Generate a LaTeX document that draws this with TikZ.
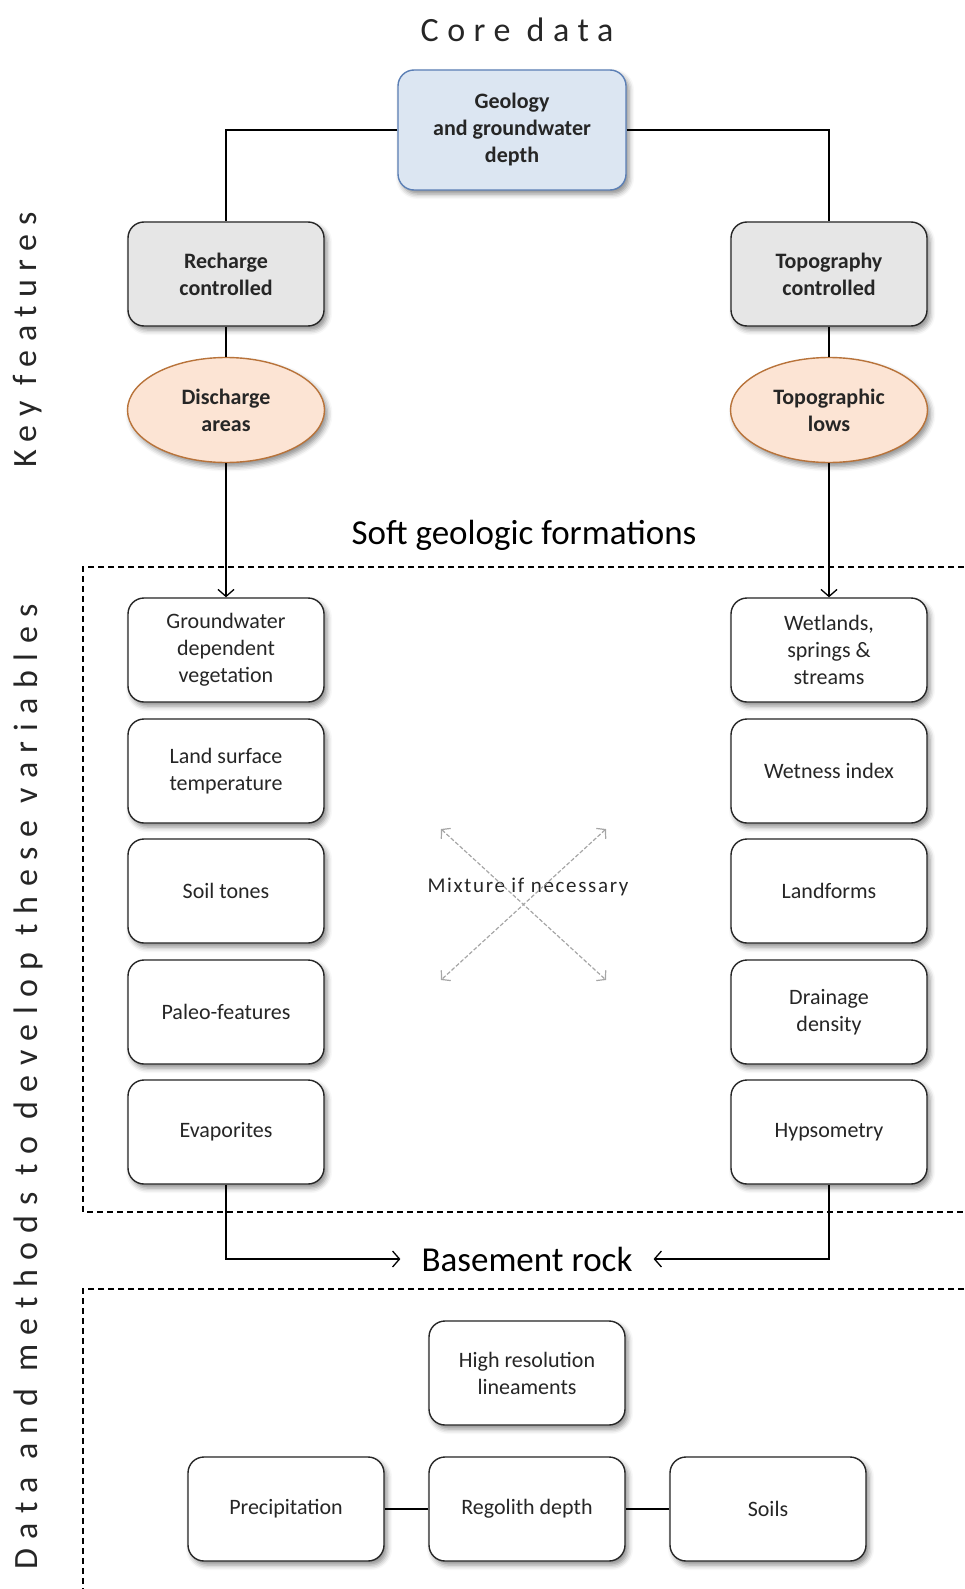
\documentclass[tikz,border=0pt]{standalone}
\usepackage{fontspec}
\setmainfont{Carlito}
\newfontfamily\widefont[LetterSpace=25]{Carlito}
\newfontfamily\widerfont[LetterSpace=28]{Carlito}
\newfontfamily\mixfont[LetterSpace=8]{Carlito}
\usetikzlibrary{shapes.geometric,shadows.blur,arrows.meta}

\definecolor{geofill}{HTML}{DCE6F2}
\definecolor{geodraw}{HTML}{5B7FB5}
\definecolor{keyfill}{HTML}{E6E6E6}
\definecolor{areafill}{HTML}{FCE4D4}
\definecolor{areadraw}{HTML}{B8733A}

\begin{document}
\begin{tikzpicture}[x=1pt, y=-1pt,
    shade/.style={blur shadow={shadow xshift=3pt, shadow yshift=-4pt,
        shadow blur radius=5pt, shadow opacity=45}},
    box/.style={rectangle, rounded corners=16pt, draw=black!85, line width=1.4pt,
        fill=white, minimum width=196pt, minimum height=104pt, align=center,
        text=black!85, font=\fontsize{22}{27}\selectfont, shade},
    keybox/.style={box, fill=keyfill, font=\bfseries\fontsize{22}{27}\selectfont},
    area/.style={ellipse, draw=areadraw, line width=1.4pt, fill=areafill,
        minimum width=197pt, minimum height=105pt, align=center, inner sep=0pt,
        text=black!85, font=\bfseries\fontsize{22}{27}\selectfont, shade},
    link/.style={line width=1.3pt},
    arr/.style={link, -{Straight Barb[length=7pt, width=16pt]}},
    mixarr/.style={gray!70, line width=1.2pt, dash pattern=on 4pt off 2pt,
        {Straight Barb[length=6pt, width=14pt]}-{Straight Barb[length=6pt, width=14pt]}},
    frame/.style={line width=1.2pt, dash pattern=on 6pt off 4pt},
    heading/.style={font=\widefont\fontsize{34}{40}\selectfont, text=black!85},
    section/.style={font=\fontsize{35}{40}\selectfont, text=black}]

\useasboundingbox (0,0) rectangle (964,1589);

% headings
\node[heading] (core) at (517,30) {Core data};
\node[heading, rotate=90] (keyfeat) at (28,340) {Key features};
\node[heading, rotate=90, font=\widerfont\fontsize{34}{40}\selectfont] (methods) at (28,1087)
    {Data and methods to develop these variables};

% dashed frames
\draw[frame] (964,567) -- (83,567) -- (83,1212) -- (964,1212);
\draw[frame] (964,1289) -- (83,1289) -- (83,1589);

% core data and key features
\node[box, fill=geofill, draw=geodraw, minimum width=228pt, minimum height=120pt,
      font=\bfseries\fontsize{22}{27}\selectfont] (geo) at (512,130) {Geology\\and groundwater\\depth};
\node[keybox] (rech) at (226,274) {Recharge\\controlled};
\node[keybox] (topo) at (829,274) {Topography\\controlled};
\node[area] (dis) at (226,410) {Discharge\\areas};
\node[area] (lows) at (829,410) {Topographic\\lows};

\node[section] (soft) at (524,535) {Soft geologic formations};

% left column
\node[box] (gdv) at (226,650) {Groundwater\\dependent\\vegetation};
\node[box] (lst) at (226,771) {Land surface\\temperature};
\node[box] (soil) at (226,891) {Soil tones};
\node[box] (paleo) at (226,1012) {Paleo-features};
\node[box] (evap) at (226,1132) {Evaporites};

% right column
\node[box] (wet) at (829,650) {Wetlands,\\springs \&\\streams};
\node[box] (wetidx) at (829,771) {Wetness index};
\node[box] (landf) at (829,891) {Landforms};
\node[box] (drain) at (829,1012) {Drainage\\density};
\node[box] (hyps) at (829,1132) {Hypsometry};

% mixture between the columns
\node[font=\mixfont\fontsize{21}{24}\selectfont, text=black!85] (mix) at (528,887) {Mixture if necessary};
\coordinate (mxa) at (441,829);
\coordinate (mxb) at (606,829);
\coordinate (mxc) at (441,980);
\coordinate (mxd) at (606,980);
\draw[mixarr] (mxa) -- (mxd);
\draw[mixarr] (mxb) -- (mxc);

\node[section, inner xsep=21pt] (base) at (527,1259) {Basement rock};

% basement rock
\node[box] (hires) at (527,1373) {High resolution\\lineaments};
\node[box] (precip) at (286,1509) {Precipitation};
\node[box] (rego) at (527,1509) {Regolith depth};
\node[box] (soils) at (768,1509) {Soils};

\draw[link] (geo.west) -| (rech.north);
\draw[link] (geo.east) -| (topo.north);

\foreach \from/\to in {rech/dis, topo/lows, precip/rego, rego/soils}
    \draw[link] (\from) -- (\to);

\draw[arr] (dis) -- (gdv);
\draw[arr] (lows) -- (wet);
\draw[arr] (evap.south) |- (base.west);
\draw[arr] (hyps.south) |- (base.east);

\end{tikzpicture}
\end{document}
